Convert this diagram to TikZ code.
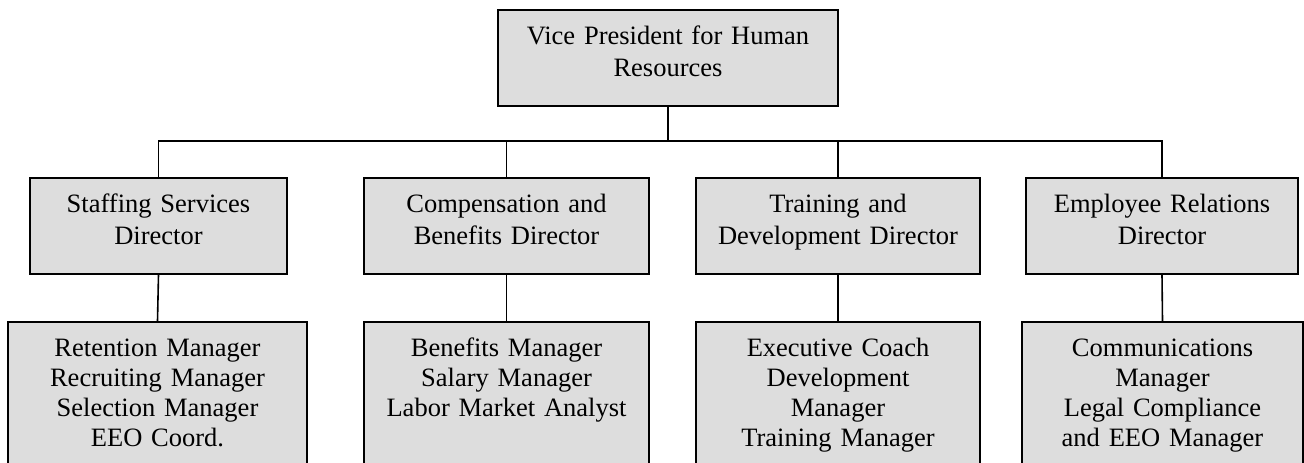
\documentclass[tikz,border=0pt]{standalone}
\usepackage{fontspec}
\setmainfont{Liberation Serif}
\definecolor{boxgray}{RGB}{221,221,221}
\tikzset{
  orgbox/.style={draw, line width=1.6pt, fill=boxgray, anchor=north, align=center,
    inner xsep=0pt, inner ysep=0pt, text height=35pt, text width=#1},
  topbox/.style={orgbox=#1, text depth=61pt, font=\fontsize{26.5}{32}\selectfont},
  dirbox/.style={orgbox=#1, text depth=61pt, font=\fontsize{26.5}{32}\selectfont},
  mgrbox/.style={orgbox=#1, text depth=200pt, font=\fontsize{26.5}{30}\selectfont},
  link/.style={line width=1.6pt}
}
\begin{document}
\begin{tikzpicture}[x=1pt, y=-1pt]
        % page size of the chart
        \clip (0,0) rectangle (1304,463);
        % top level
        \node[topbox=340pt] (vp) at (668,9) {Vice President for Human\\Resources};
        % directors
        \node[dirbox=257pt] (staff) at (158.5,177) {Staffing Services\\Director};
        \node[dirbox=285pt] (comp) at (506.5,177) {Compensation and\\Benefits Director};
        \node[dirbox=284pt] (train) at (838,177) {Training and\\Development Director};
        \node[dirbox=272pt] (emprel) at (1162,177) {Employee Relations\\Director};
        % managers (boxes run past the bottom edge)
        \node[mgrbox=299pt] (retmgr) at (157.5,321) {Retention Manager\\Recruiting Manager\\Selection Manager\\EEO Coord.};
        \node[mgrbox=285pt] (benmgr) at (506.5,321) {Benefits Manager\\Salary Manager\\Labor Market Analyst};
        \node[mgrbox=284pt] (exmgr) at (838,321) {Executive Coach\\Development\\Manager\\Training Manager};
        \node[mgrbox=281pt] (commgr) at (1162.5,321) {Communications\\Manager\\Legal Compliance\\and EEO Manager};
        % connectors
        \coordinate (bus) at (0,141);
        \draw[link] (vp.south) -- (vp.south |- bus);
        \draw[link] (staff.north) -- (staff.north |- bus) -| (emprel.north);
        \draw[link] (comp.north) -- (comp.north |- bus);
        \draw[link] (train.north) -- (train.north |- bus);
        \draw[link] (staff.south) -- (retmgr.north);
        \draw[link] (comp.south) -- (benmgr.north);
        \draw[link] (train.south) -- (exmgr.north);
        \draw[link] (emprel.south) -- (commgr.north);
    \end{tikzpicture}
\end{document}
